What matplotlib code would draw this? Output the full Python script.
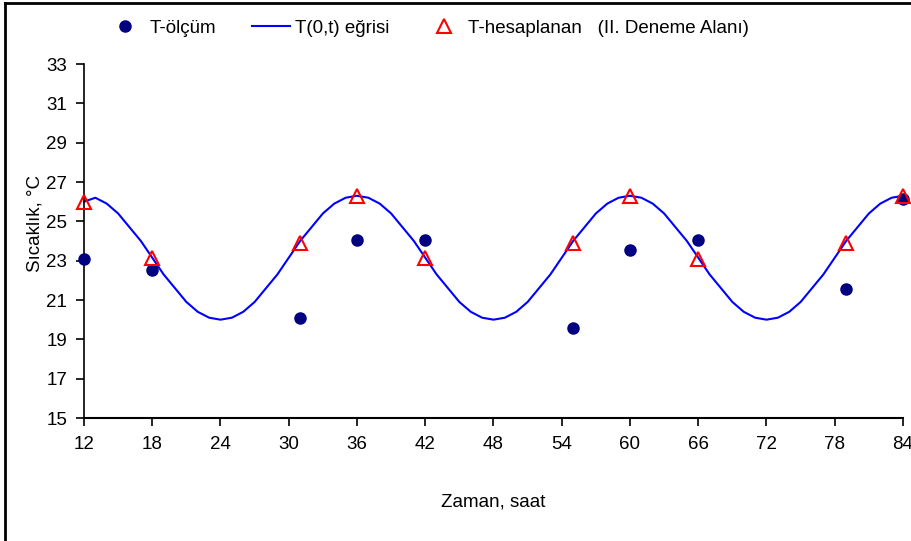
import matplotlib.pyplot as plt
from matplotlib.lines import Line2D

# Measured and computed temperatures at the sampling hours
saat = [12, 18, 31, 36, 42, 55, 60, 66, 79, 84]
t_olcum = [23.1, 22.55, 20.1, 24.05, 24.05, 19.6, 23.55, 24.05, 21.55, 26.15]
t_hesap = [26.0, 23.15, 23.9, 26.3, 23.15, 23.9, 26.3, 23.1, 23.9, 26.3]

# T(0,t) curve
egri_saat = list(range(12, 85))
egri_t = [26.0, 26.2, 25.9, 25.4, 24.7, 24.0, 23.15, 22.3, 21.6, 20.9, 20.4, 20.1,
          20.0, 20.1, 20.4, 20.9, 21.6, 22.3, 23.15, 24.0, 24.7, 25.4, 25.9, 26.2,
          26.3, 26.2, 25.9, 25.4, 24.7, 24.0, 23.15, 22.3, 21.6, 20.9, 20.4, 20.1,
          20.0, 20.1, 20.4, 20.9, 21.6, 22.3, 23.15, 24.0, 24.7, 25.4, 25.9, 26.2,
          26.3, 26.2, 25.9, 25.4, 24.7, 24.0, 23.15, 22.3, 21.6, 20.9, 20.4, 20.1,
          20.0, 20.1, 20.4, 20.9, 21.6, 22.3, 23.15, 24.0, 24.7, 25.4, 25.9, 26.2,
          26.3]

x_ticks = list(range(12, 85, 6))
y_ticks = list(range(15, 34, 2))

plt.rcParams['font.family'] = ['Liberation Sans', 'DejaVu Sans']

fig = plt.figure(figsize=(9.12, 5.41), dpi=100)
ax = fig.add_axes([84 / 912, 1 - 418 / 541, 819 / 912, 354 / 541])

ax.plot(saat, t_olcum, linestyle='none', marker='o', markersize=8,
        color='#000080', label='T-ölçüm', clip_on=False, zorder=3)
ax.plot(egri_saat, egri_t, color='#0000FF', linewidth=1.5,
        label='T(0,t) eğrisi', clip_on=False, zorder=2)
ax.plot(saat, t_hesap, linestyle='none', marker='^', markersize=9.5,
        markerfacecolor='none', markeredgecolor='#FF0000', markeredgewidth=1.5,
        label='T-hesaplanan   (II. Deneme Alanı)', clip_on=False, zorder=4)

ax.set_xlim(12, 84)
ax.set_ylim(15, 33)
ax.set_xticks(x_ticks)
ax.set_yticks(y_ticks)
ax.tick_params(axis='both', direction='out', length=6, width=1.2,
               labelsize=13.5, colors='black')
ax.tick_params(axis='x', pad=7)
ax.tick_params(axis='y', pad=6)
ax.spines['top'].set_visible(False)
ax.spines['right'].set_visible(False)
ax.spines['left'].set_linewidth(1.2)
ax.spines['bottom'].set_linewidth(1.5)

ax.set_xlabel('Zaman, saat', fontsize=13.5, labelpad=29)
ax.set_ylabel('Sıcaklık, °C', fontsize=13.5)
ax.yaxis.set_label_coords(-0.05, 0.55)

fig.legend(loc='center', bbox_to_anchor=(428 / 912, 1 - 28 / 541), ncol=3,
           frameon=False, fontsize=13.5, handlelength=2.0, columnspacing=1.9,
           handletextpad=0.3)

# Outer chart border (left and top edges visible)
fig.add_artist(Line2D([5 / 912, 5 / 912], [0, 1 - 3 / 541], color='black',
                      linewidth=2, transform=fig.transFigure))
fig.add_artist(Line2D([5 / 912, 1], [1 - 3 / 541, 1 - 3 / 541], color='black',
                      linewidth=2, transform=fig.transFigure))

fig.savefig('out.png', dpi=100)
